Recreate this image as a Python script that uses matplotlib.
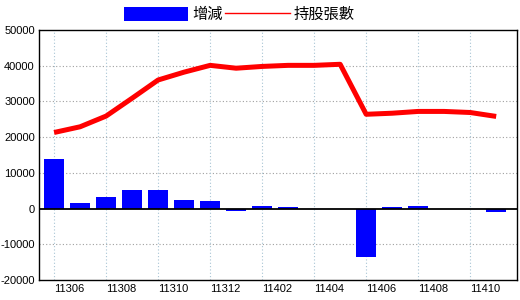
import matplotlib
matplotlib.use("Agg")
import matplotlib.pyplot as plt
from matplotlib import font_manager
from matplotlib.lines import Line2D
from matplotlib.patches import Patch
import numpy as np

months = ["11306", "11307", "11308", "11309", "11310", "11311", "11312",
          "11401", "11402", "11403", "11404", "11405", "11406", "11407",
          "11408", "11409", "11410", "11411"]
change = [14000, 1500, 3100, 5100, 5100, 2300, 2000, -700, 600, 300,
          0, 0, -13500, 300, 600, 0, 0, -1000]
holdings = [21300, 22900, 25900, 30900, 36000, 38200, 40100, 39300, 39800,
            40100, 40100, 40400, 26400, 26700, 27200, 27200, 26900, 25800]
yticks = [-20000, -10000, 0, 10000, 20000, 30000, 40000, 50000]

names = {f.name for f in font_manager.fontManager.ttflist}
if 'Liberation Sans Narrow' in names:
    tick_font, tick_size = 'Liberation Sans Narrow', 9.5
else:
    tick_font, tick_size = 'Liberation Sans', 8

plt.rcParams['font.family'] = [tick_font, 'DejaVu Sans']

fig = plt.figure(figsize=(5.2, 3.0), dpi=100)
ax = fig.add_axes([39/520, 20/300, (517-39)/520, 250/300])

x = np.arange(len(months))
ax.bar(x, change, width=0.77, color='#0000ff', zorder=3)
ax.plot(x, holdings, color='#ff0000', linewidth=3.6, zorder=4,
        solid_joinstyle='round', solid_capstyle='butt')
ax.axhline(0, color='black', linewidth=1.3, zorder=5)

ax.set_xlim(-0.58, 17.8)
ax.set_ylim(-20000, 50000)
ax.set_yticks(yticks)
ax.set_yticklabels([str(v) for v in yticks], fontsize=tick_size)
tick_idx = x[::2][:9]
ax.set_xticks(tick_idx)
ax.set_xticklabels([months[i] for i in tick_idx], fontsize=tick_size, ha='left')
ax.tick_params(axis='both', length=0, pad=3)

for v in yticks[1:-1]:
    if v != 0:
        ax.axhline(v, color='#a0a0a0', linewidth=0.8, linestyle=(0, (1, 2)), zorder=1)
for i in tick_idx:
    ax.axvline(i, color='#a8c4d4', linewidth=0.8, linestyle=(0, (1, 2)), zorder=1)

for s in ax.spines.values():
    s.set_color('black')
    s.set_linewidth(1.0)

h1 = Patch(facecolor='#0000ff', edgecolor='none')
h2 = Line2D([0], [0], color='#ff0000', linewidth=1.0)
fig.legend([h1, h2], ['增減', '持股張數'], loc='upper center',
           bbox_to_anchor=(0.46, 1.01), ncol=2, frameon=False,
           handlelength=4.2, handleheight=1.1, handletextpad=0.25,
           columnspacing=0.2, borderaxespad=0.2,
           prop={'family': ['Noto Sans CJK TC', 'DejaVu Sans'], 'size': 11})

fig.savefig('out.png', dpi=100)
